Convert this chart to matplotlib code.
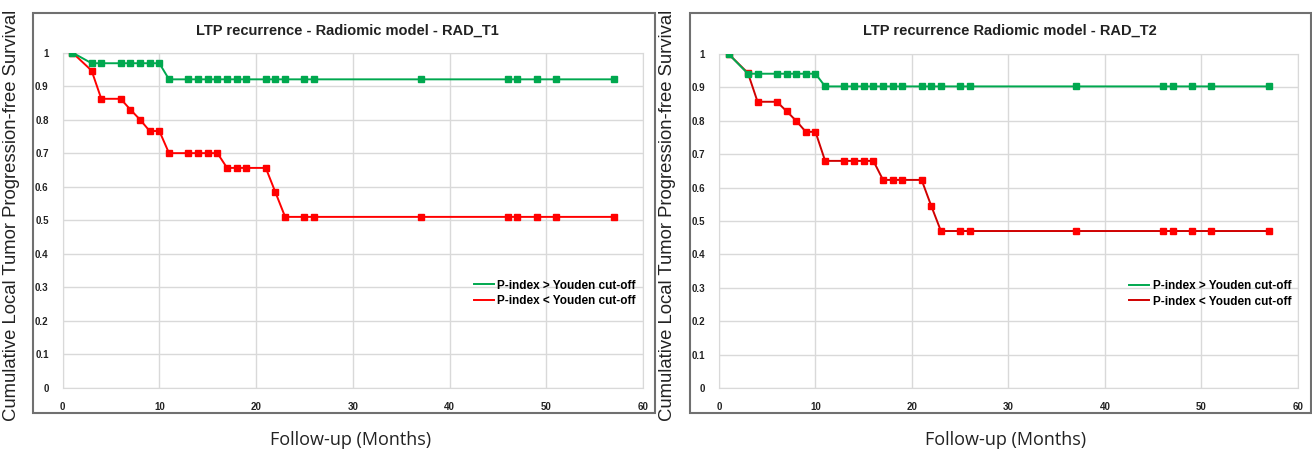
import matplotlib
matplotlib.use("Agg")
import matplotlib.pyplot as plt
from matplotlib.lines import Line2D
from matplotlib.patches import Rectangle

# follow-up months where markers are drawn (same for every curve)
months = [1, 3, 4, 6, 7, 8, 9, 10, 11, 13, 14, 15, 16, 17, 18, 19, 21, 22, 23,
          25, 26, 37, 46, 47, 49, 51, 57]

# RAD_T1
t1_high = [1.0, 0.968, 0.968, 0.968, 0.968, 0.968, 0.968, 0.968, 0.92, 0.92,
           0.92, 0.92, 0.92, 0.92, 0.92, 0.92, 0.92, 0.92, 0.92, 0.92, 0.92,
           0.92, 0.92, 0.92, 0.92, 0.92, 0.92]
t1_low = [1.0, 0.946, 0.862, 0.862, 0.83, 0.80, 0.766, 0.766, 0.70, 0.70,
          0.70, 0.70, 0.70, 0.656, 0.656, 0.656, 0.656, 0.583, 0.51, 0.51,
          0.51, 0.51, 0.51, 0.51, 0.51, 0.51, 0.51]

# RAD_T2
t2_high = [1.0, 0.941, 0.941, 0.941, 0.941, 0.941, 0.941, 0.941, 0.903, 0.903,
           0.903, 0.903, 0.903, 0.903, 0.903, 0.903, 0.903, 0.903, 0.903,
           0.903, 0.903, 0.903, 0.903, 0.903, 0.903, 0.903, 0.903]
t2_low = [1.0, 0.943, 0.857, 0.857, 0.829, 0.80, 0.767, 0.767, 0.68, 0.68,
          0.68, 0.68, 0.68, 0.623, 0.623, 0.623, 0.623, 0.545, 0.47, 0.47,
          0.47, 0.47, 0.47, 0.47, 0.47, 0.47, 0.47]

titles = ["LTP recurrence - Radiomic model - RAD_T1",
          "LTP recurrence Radiomic model - RAD_T2"]
legend_labels = ["P-index > Youden cut-off", "P-index < Youden cut-off"]
xlabel = "Follow-up (Months)"
ylabel = "Cumulative Local Tumor Progression-free Survival"

GREEN = "#00A84F"
RED = "#FF0000"
SANS = ["Liberation Sans", "DejaVu Sans"]

fig = plt.figure(figsize=(13.12, 4.55), dpi=100)

panels = [
    # axes rect, outer box rect, title x, y label x, red line colour
    ([0.0477, 0.1473, 0.4425, 0.7373], [0.0252, 0.0923, 0.474, 0.879], 0.2645, 0.009, RED),
    ([0.548, 0.1473, 0.4413, 0.734], [0.526, 0.0923, 0.4735, 0.879], 0.770, 0.509, "#D00000"),
]
data = [(t1_high, t1_low), (t2_high, t2_low)]

for i, (rect, box, tx, lx, redline) in enumerate(panels):
    high, low = data[i]
    fig.patches.append(Rectangle((box[0], box[1]), box[2], box[3], transform=fig.transFigure,
                                 fill=False, edgecolor="#707070", linewidth=1.5))
    ax = fig.add_axes(rect)
    ax.plot(months, low, color=redline, lw=1.4, marker="s", ms=4.5,
            mfc=RED, mec=RED, zorder=3)
    ax.plot(months, high, color=GREEN, lw=1.4, marker="s", ms=4.5,
            mfc=GREEN, mec=GREEN, zorder=4)
    ax.set_xlim(0, 60)
    ax.set_ylim(0, 1)
    ax.set_xticks(range(0, 61, 10))
    ax.set_yticks([k / 10 for k in range(11)])
    ax.set_yticklabels(["0"] + ["0.%d" % k for k in range(1, 10)] + ["1"])
    ax.grid(True, color="#D9D9D9", lw=1)
    ax.set_axisbelow(True)
    for s in ax.spines.values():
        s.set_color("#D9D9D9")
    ax.tick_params(length=0, labelsize=7, colors="#222222", pad=10)
    for lab in ax.get_xticklabels() + ax.get_yticklabels():
        lab.set_family(SANS)
        lab.set_fontweight("bold")

    handles = [Line2D([], [], color=GREEN, lw=1.4), Line2D([], [], color=redline, lw=1.4)]
    ax.legend(handles, legend_labels, loc="upper left", bbox_to_anchor=(0.69, 0.355),
              frameon=False, handlelength=1.7, handletextpad=0.3, labelspacing=0.3,
              prop={"family": SANS, "weight": "bold", "size": 8.5})

    fig.text(tx, 0.932, titles[i], ha="center", va="center", family=SANS,
             fontweight="bold", fontsize=10.5, color="#222222")
    fig.text(lx, 0.527, ylabel, rotation=90, ha="center", va="center",
             family=SANS, fontsize=13.3, color="#222222")
    fig.text(rect[0] + rect[2] / 2 - 0.002, 0.033, xlabel, ha="center", va="center",
             family=["Open Sans", "DejaVu Sans"], fontsize=13, color="#222222")

fig.savefig("out.png", dpi=100)
